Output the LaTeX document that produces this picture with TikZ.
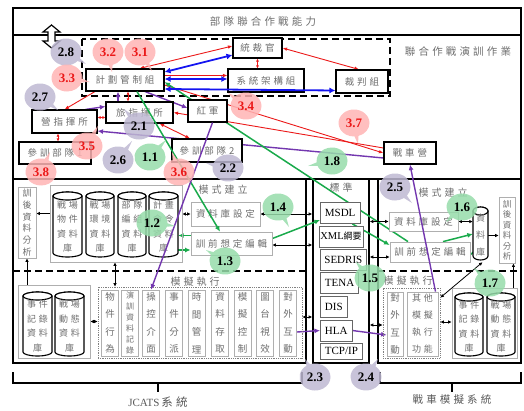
\documentclass[tikz,border=0pt]{standalone}
\usepackage{fontspec}
\setmainfont{Liberation Serif}
\newfontfamily\cjk[LetterSpace=30]{Noto Sans CJK TC}
\newfontfamily\cjkn{Noto Sans CJK TC}
\usetikzlibrary{arrows.meta,shapes.callouts,calc}
\pgfdeclarelayer{back}
\pgfdeclarelayer{lines}
\pgfdeclarelayer{front}
\pgfsetlayers{back,lines,main,front}
\definecolor{tg}{RGB}{110,110,110}
\definecolor{pk}{RGB}{255,180,180}
\definecolor{gy}{RGB}{190,184,210}
\definecolor{gn}{RGB}{150,220,170}
\definecolor{rd}{RGB}{235,25,25}
\definecolor{bl}{RGB}{20,20,240}
\definecolor{gr}{RGB}{25,170,75}
\definecolor{pu}{RGB}{115,55,175}
\definecolor{lg}{RGB}{175,175,175}
\tikzset{
 frm/.style={draw=black, line width=1.6pt, inner sep=0pt},
 dsh/.style={draw=black, line width=1.5pt, dash pattern=on 7pt off 4pt},
 brk/.style={draw=black, line width=1.2pt},
 tbox/.style={draw=black, line width=1.1pt, fill=white, text=tg, inner sep=0pt, font=\cjk\fontsize{9.5}{10}\selectfont},
 gbox/.style={draw=lg, line width=0.8pt, fill=white, text=tg, inner sep=0pt, font=\cjk\fontsize{9.5}{10}\selectfont},
 grp/.style={draw=lg, line width=0.8pt, inner sep=0pt},
 dgrp/.style={draw=gray, line width=0.8pt, densely dotted, inner sep=0pt},
 sbox/.style={draw=gray!80!black, line width=0.8pt, fill=white, anchor=west, minimum height=21pt, inner xsep=4.5pt, inner ysep=0pt, font=\fontsize{11}{12}\selectfont},
 vcol/.style={draw=lg, line width=0.7pt, fill=white, text=tg, align=center, inner sep=0pt, minimum width=17pt, minimum height=66pt, font=\cjkn\fontsize{9.5}{17.5}\selectfont},
 lbl/.style={text=tg, inner sep=0pt, font=\cjk\fontsize{10}{10}\selectfont},
 cyt/.style={text=tg, align=center, inner sep=0pt, font=\cjk\fontsize{9}{14.5}\selectfont},
 cyt1/.style={text=tg, align=center, inner sep=0pt, font=\cjkn\fontsize{9}{17}\selectfont},
 cylst/.style={draw=black, line width=1.1pt, fill=white},
 bub/.style={ellipse callout, minimum width=31pt, minimum height=27pt, inner sep=0pt, fill opacity=0.85, text opacity=1, font=\bfseries\fontsize{13}{13}\selectfont},
 pkb/.style={bub, fill=pk, text=rd},
 gyb/.style={bub, fill=gy, text=black},
 gnb/.style={bub, fill=gn, text=black},
 sht/.style={>={Latex[length=3pt,width=3pt]}},
 rl/.style={draw=rd, line width=0.9pt},
 bll/.style={draw=bl, line width=1.8pt, >={Latex[length=6pt,width=6pt]}},
 grl/.style={draw=gr, line width=1.5pt, >={Latex[length=5.5pt,width=5pt]}},
 pul/.style={draw=pu, line width=1.4pt, >={Latex[length=5.5pt,width=5pt]}},
 kl/.style={draw=black, line width=0.8pt, >={Latex[length=3.5pt,width=3.5pt]}},
}
\newcommand\mkcyl[7]{%
 \filldraw[cylst] (#2,#3+4) -- (#2,#5-4) arc[start angle=180,end angle=0,x radius={(#4-#2)/2},y radius=4] -- (#4,#3+4) arc[start angle=0,end angle=-180,x radius={(#4-#2)/2},y radius=4] -- cycle;
 \draw[cylst] ({(#2+#4)/2},#3+4) ellipse[x radius={(#4-#2)/2},y radius=4];
 \node[#6, minimum width={#4-#2}, minimum height={#5-#3}] (#1) at ({(#2+#4)/2},{(#3+#5)/2+2}) {#7};
}
\begin{document}
\begin{tikzpicture}[x=1pt,y=-1pt,>={Latex[length=4.5pt,width=3.6pt]}]
\useasboundingbox (0,0) rectangle (524,410);

\begin{pgfonlayer}{back}
\draw[line width=1.6pt] (13,8) rectangle (521,179);
\draw[line width=1.2pt] (13,35) -- (521,35);
\node[frm, minimum width=293pt, minimum height=184pt] (jcf) at (159.5,271) {};
\node[frm, minimum width=56pt, minimum height=184pt] (std) at (341,271) {};
\node[frm, minimum width=143pt, minimum height=184pt] (tkf) at (449.5,271) {};
\draw[dsh] (13,271) -- (306,271);
\draw[dsh] (378,271) -- (521,271);
\draw[dsh] (82,39) rectangle (390,96);
\draw[brk] (13,372) -- (13,383) -- (302,383) -- (302,372);
\draw[brk] (158,383) -- (158,392);
\draw[brk] (380,372) -- (380,383) -- (521,383) -- (521,372);
\draw[brk] (452,383) -- (452,392);
\end{pgfonlayer}

% hollow double arrow
\filldraw[fill=white, draw=black, line width=1.2pt] (51.5,25) -- (60,32) -- (55,32) -- (55,41) -- (60,41) -- (51.5,48) -- (43,41) -- (48,41) -- (48,32) -- (43,32) -- cycle;

% titles
\node[lbl, font=\cjk\fontsize{10.5}{11}\selectfont] (title) at (263,22) {部隊聯合作戰能力};
\node[lbl, font=\cjk\fontsize{10.5}{11}\selectfont] (lhz) at (458,52) {聯合作戰演訓作業};

% top boxes
\node[tbox, minimum width=49pt, minimum height=20pt] (tgs) at (257.5,48) {統裁官};
\node[tbox, minimum width=78pt, minimum height=22pt] (jh) at (125,80) {計劃管制組};
\node[tbox, minimum width=76pt, minimum height=23pt] (xt) at (266,80.5) {系統架構組};
\node[tbox, minimum width=52pt, minimum height=23pt] (cp) at (362,81.5) {裁判組};
\node[tbox, minimum width=65pt, minimum height=23pt] (yz) at (64.5,121.5) {營指揮所};
\node[tbox, minimum width=67pt, minimum height=21pt] (lz) at (139.5,112.5) {旅指揮所};
\node[tbox, minimum width=39pt, minimum height=22pt] (hj) at (207.5,111) {紅軍};
\node[tbox, minimum width=72pt, minimum height=22pt] (cx1) at (55,153) {參訓部隊1};
\node[tbox, minimum width=70pt, minimum height=23pt] (cx2) at (207,150.5) {參訓部隊2};
\node[tbox, minimum width=52pt, minimum height=22pt] (zc) at (410,153) {戰車營};

% JCATS model building
\node[gbox, minimum width=18pt, minimum height=71pt, align=center, font=\cjkn\fontsize{9}{11.8}\selectfont] (hxL) at (27,222.5) {訓\\後\\資\\料\\分\\析};
\node[grp, minimum width=132pt, minimum height=77pt] (dbg) at (116,223.5) {};
\mkcyl{c1}{53}{192}{82}{257}{cyt}{戰場\\物件\\資料\\庫}
\mkcyl{c2}{86}{192}{114}{257}{cyt}{戰場\\環境\\資料\\庫}
\mkcyl{c3}{118}{192}{146}{257}{cyt}{部隊\\編組\\資料\\庫}
\mkcyl{c4}{149}{192}{178}{257}{cyt}{計畫\\命令\\資料\\庫}
\node[lbl] (msL) at (223,190) {模式建立};
\node[gbox, minimum width=69pt, minimum height=24pt] (dbsL) at (225.5,214) {資料庫設定};
\node[gbox, minimum width=81pt, minimum height=23pt] (xqL) at (231.5,243.5) {訓前想定編輯};

% standards
\node[lbl] (bz) at (341,188) {標準};
\node[sbox] (msdl) at (320,213) {MSDL};
\node[sbox, inner xsep=1.5pt, font=\fontsize{10.5}{11}\selectfont] (xml) at (318.5,236.5) {XML{\cjkn\fontsize{9}{9}\selectfont 綱要}};
\node[sbox] (sedris) at (319.5,259.5) {SEDRIS};
\node[sbox] (tena) at (320,283) {TENA};
\node[sbox] (dis) at (320,306.5) {DIS};
\node[sbox] (hla) at (320,330.5) {HLA};
\node[sbox, minimum height=16pt] (tcp) at (320,351) {TCP/IP};

% tank model building
\node[lbl] (msR) at (443,193) {模式建立};
\node[gbox, minimum width=69pt, minimum height=19pt] (dbsR) at (423.5,221.5) {資料庫設定};
\node[gbox, minimum width=80pt, minimum height=20pt] (xqR) at (430,252) {訓前想定編輯};
\mkcyl{cylR}{473}{207}{488}{260}{cyt1}{資\\料\\庫}
\node[gbox, minimum width=16pt, minimum height=66pt, align=center, font=\cjkn\fontsize{8.5}{10.5}\selectfont] (hxR) at (507,230) {訓\\後\\資\\料\\分\\析};

% JCATS simulation
\node[lbl] (mxL) at (195,282) {模擬執行};
\node[grp, minimum width=72pt, minimum height=73pt] (evg) at (54,321.5) {};
\mkcyl{e1}{23}{292}{52}{356}{cyt}{事件\\記錄\\資料\\庫}
\mkcyl{e2}{55}{292}{84}{356}{cyt}{戰場\\動態\\資料\\庫}
\node[dgrp, minimum width=204pt, minimum height=71pt] (dg) at (200,322.5) {};
\node[vcol] (k1) at (110,323) {物\\件\\行\\為};
\node[vcol, font=\cjkn\fontsize{8}{11}\selectfont] (k2) at (130,323) {演\\訓\\資\\料\\記\\錄};
\node[vcol] (k3) at (151,323) {操\\控\\介\\面};
\node[vcol] (k4) at (174,323) {事\\件\\分\\派};
\node[vcol] (k5) at (196.5,323) {時\\間\\管\\理};
\node[vcol] (k6) at (220,323) {資\\料\\存\\取};
\node[vcol] (k7) at (242.5,323) {模\\擬\\控\\制};
\node[vcol] (k8) at (265,323) {圖\\台\\視\\效};
\node[vcol] (dwL) at (288,323) {對\\外\\互\\動};

% tank simulation
\node[lbl] (mxR) at (408,281) {模擬執行};
\node[dgrp, minimum width=57pt, minimum height=70pt] (dgR) at (411.5,323) {};
\node[vcol, minimum width=16pt, minimum height=64pt] (dwR) at (395,324) {對\\外\\互\\動};
\node[gbox, minimum width=31pt, minimum height=64pt, align=center, font=\cjk\fontsize{9}{17}\selectfont] (qt) at (422.5,324) {其他\\模擬\\執行\\功能};
\node[grp, minimum width=65pt, minimum height=70pt] (dbR) at (484.5,323) {};
\mkcyl{e3}{455}{293}{483}{356}{cyt}{事件\\記錄\\資料\\庫}
\mkcyl{e4}{487}{293}{515}{356}{cyt}{戰場\\動態\\資料\\庫}

% bottom labels
\node[text=tg!80!black, inner sep=0pt, font=\fontsize{11}{12}\selectfont] (jcl) at (158,402) {JCATS\,{\cjk\fontsize{11.5}{12}\selectfont 系統}};
\node[lbl, text=tg!80!black, font=\cjk\fontsize{10.5}{11}\selectfont] (tkl) at (452,400) {戰車模擬系統};

% connectors behind boxes
\begin{pgfonlayer}{lines}
\draw[bll,<->] ([yshift=8pt]jh.east) -- ([yshift=-7pt]tgs.west);
\draw[bll,<->] ([yshift=1pt]jh.east) -- ([yshift=1pt]jh.east -| xt.west);
\draw[rl,<->] ([xshift=-25pt]jh.north east) -- ([yshift=2pt]tgs.west);
\draw[rl,->] ([yshift=4.5pt]jh.east) -- ([yshift=4.5pt]jh.east -| xt.west);
\draw[rl,<->] (tgs.east) -- ([xshift=-3pt]cp.north);
\draw[rl,sht,<->] (tgs.south) -- (tgs.south |- xt.north);
\draw[rl,sht,<->] ([xshift=3pt]jh.south) -- ([xshift=3pt]jh.south |- lz.north);
\draw[rl,->] ([xshift=-30pt]jh.south) -- (yz.north);
\draw[rl,sht,<->] ([yshift=4pt]yz.east) -- ([yshift=4pt]yz.east -| lz.west);
\draw[rl,sht,<->] ([xshift=-6.5pt]yz.south) -- ([xshift=-6.5pt]yz.south |- cx1.north);
\draw[rl,<->] ([xshift=20pt]lz.south) -- ([xshift=-17pt]cx2.north);
\draw[rl,->] ([yshift=5pt]zc.west) -- (lz.east);
\draw[rl,->] ([yshift=-5pt]jh.east) -- (zc.west);
\draw[pul,->] ([xshift=-7pt]jh.south |- lz.north) -- ([xshift=-7pt]jh.south);
\draw[pul,->] ([xshift=20pt]jh.south) -- ([yshift=3pt]hj.west);
\draw[pul,->] ([xshift=-12pt]yz.north east) -- ([yshift=6pt]lz.west);
\draw[pul,->] ([yshift=-5pt]zc.west) -- ([yshift=-9.5pt]yz.east);
\draw[grl,->] ([xshift=-22pt]xqR.north) -- ([yshift=-2pt]jh.east);
\draw[grl,->] ([yshift=5pt]xqL.east) -- ([yshift=-7pt]msdl.west);
\draw[grl,->] ([xshift=-8pt]msdl.south east) -- ([yshift=7pt]xqR.west);
\draw[grl,->] ([xshift=13pt]xqR.north) -- ([yshift=1.5pt]cylR.west);
\coordinate (g6e) at (462,262);
\draw[grl,->] ($(cylR.center)+(-3,13)$) -- (g6e);
\draw[grl,->] ([yshift=8pt]xqL.west) -- ([yshift=8pt]xqL.west -| c4.east);
\draw[grl,->] ([yshift=-6.5pt]xqL.west -| c4.east) -- ([yshift=-6.5pt]xqL.west);
\draw[kl,->] ([yshift=10pt]dbg.west) -- ([yshift=10pt]dbg.west -| hxL.east);
\draw[kl,->] (hxL.south |- evg.north) -- (hxL.south);
\draw[kl,<->] ([xshift=-1pt]dbg.south) -- ([xshift=-1pt]dbg.south |- dg.north);
\draw[kl,<->] (evg.east) -- (evg.east -| dg.west);
\draw[kl,<->] ([yshift=9.5pt]dbg.east) -- ([yshift=9.5pt]dbg.east -| dbsL.west);
\draw[kl,<->] (dbsL.east) -- (dbsL.east -| std.west);
\draw[kl,<->] ([yshift=-1.5pt]xqL.east) -- ([yshift=-1.5pt]xqL.east -| std.west);
\draw[kl,<->] ([yshift=5.5pt]dg.east) -- ([yshift=5.5pt]dg.east -| std.west);
\draw[pul,->] ([yshift=-9pt]dwL.east) -- (hla.west);
\draw[kl,<->] (std.east |- dbsR.west) -- (dbsR.west);
\draw[kl,<->] ([yshift=-5pt]xqR.west -| std.east) -- ([yshift=-5pt]xqR.west);
\draw[kl,<->] ([yshift=-2pt]dgR.west -| std.east) -- ([yshift=-2pt]dgR.west);
\draw[pul,->] (hla.east) -- ([yshift=-11pt]dwR.west);
\draw[kl,<->] (dbsR.east) -- (dbsR.east -| cylR.west);
\draw[kl,->] (cylR.east) -- (cylR.east -| hxR.west);
\draw[kl,<->] ([yshift=1pt]dgR.east) -- ([yshift=1pt]dgR.east -| dbR.west);
\draw[kl,<->] ([yshift=-10pt]dgR.north east) -- ([xshift=2pt]cylR.south);
\draw[kl,->] ([xshift=-4pt]dbR.north east) -- ([xshift=-4pt]dbR.north east |- hxR.south);
\end{pgfonlayer}

% connectors on top, bubbles
\begin{pgfonlayer}{front}
\draw[bll,<->] ([yshift=-9pt]jh.east) -- ([yshift=-9pt]cp.west);
\draw[grl,->] ([xshift=12pt]jh.south) -- ([xshift=-11.5pt]xqL.north);
\draw[pul,->] ([xshift=5pt]hj.south) -- (k3.north);
\draw[pul,->] ([xshift=13pt]qt.north) -- (zc.south);

\node[gyb, callout absolute pointer={(86,64)}] (b28) at (66,52) {2.8};
\node[pkb, callout absolute pointer={(112,72)}] (b32) at (108,52) {3.2};
\node[pkb, callout absolute pointer={(152,71)}] (b31) at (140,52) {3.1};
\node[pkb, callout absolute pointer={(90,82)}] (b33) at (67,78) {3.3};
\node[gyb, callout absolute pointer={(58,110)}] (b27) at (40,97) {2.7};
\node[gyb, callout absolute pointer={(124,109)}] (b21) at (139,126) {2.1};
\node[pkb, callout absolute pointer={(228,93)}] (b34) at (246,106) {3.4};
\node[pkb, callout absolute pointer={(98,126)}] (b35) at (87,146) {3.5};
\node[gyb, callout absolute pointer={(132,141)}] (b26) at (118,160) {2.6};
\node[gnb, callout absolute pointer={(166,140)}] (b11) at (150,157) {1.1};
\node[pkb, callout absolute pointer={(172,152)}] (b36) at (179,172) {3.6};
\node[gyb, callout absolute pointer={(206,163)}] (b22) at (228,168) {2.2};
\node[pkb, callout absolute pointer={(50,152)}] (b38) at (41,172) {3.8};
\node[pkb, callout absolute pointer={(358,144)}] (b37) at (354,123) {3.7};
\node[gnb, callout absolute pointer={(308,166)}] (b18) at (332,161) {1.8};
\node[gyb, callout absolute pointer={(412,203)}] (b25) at (395,187) {2.5};
\node[gnb, callout absolute pointer={(175,226)}] (b12) at (152,223) {1.2};
\node[gnb, callout absolute pointer={(289,227)}] (b14) at (278,207) {1.4};
\node[gnb, callout absolute pointer={(206,250)}] (b13) at (225,261) {1.3};
\node[gnb, callout absolute pointer={(446,222)}] (b16) at (462,207) {1.6};
\node[gnb, callout absolute pointer={(356,262)}] (b15) at (370,278) {1.5};
\node[gnb, callout absolute pointer={(474,268)}] (b17) at (490,283) {1.7};
\node[gyb, callout absolute pointer={(305,359)}] (b23) at (315,377) {2.3};
\node[gyb, callout absolute pointer={(378,359)}] (b24) at (366,377) {2.4};
\end{pgfonlayer}
\end{tikzpicture}
\end{document}
